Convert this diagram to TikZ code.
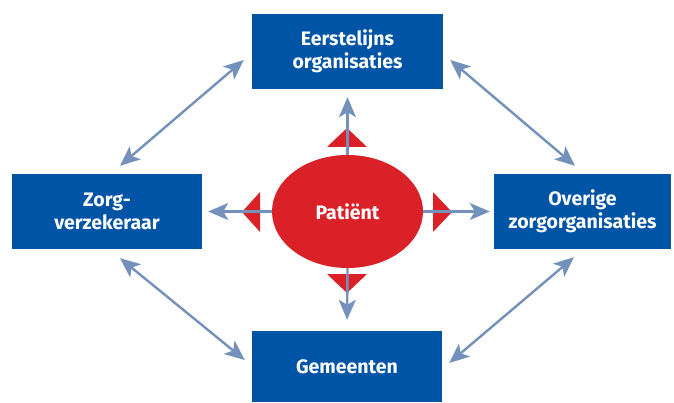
\documentclass[tikz,border=0pt]{standalone}
\usepackage{fontspec}
\setmainfont{Fira Sans}[Ligatures=NoCommon]
\usetikzlibrary{arrows.meta,shapes.geometric}
\definecolor{boxblue}{HTML}{0054A6}
\definecolor{patred}{HTML}{DA2128}
\definecolor{linkblue}{HTML}{7391BB}
\tikzset{
	orgbox/.style={rectangle,fill=boxblue,text=white,align=center,inner sep=0pt,font=\fontsize{19.5}{22.5}\selectfont\bfseries},
	link/.style={draw=linkblue,line width=2.4pt,-{Stealth[length=20pt,width=17pt,inset=5pt]}},
	duallink/.style={link,{Stealth[length=20pt,width=17pt,inset=5pt]}-{Stealth[length=20pt,width=17pt,inset=5pt]}}
}
\begin{document}
\begin{tikzpicture}[x=1pt,y=-1pt]
					\useasboundingbox (0,0) rectangle (674,403);
					\node (eerste)[orgbox,minimum width=191pt,minimum height=75pt] at (347.5,51.5){Eerstelijns\\organisaties};
					\node (verzekeraar)[orgbox,minimum width=190pt,minimum height=75pt] at (107,211.5){Zorg-\\verzekeraar};
					\node (overige)[orgbox,minimum width=177pt,minimum height=75pt] at (582.5,211.5){Overige\\zorgorganisaties};
					\node (gemeenten)[orgbox,minimum width=190pt,minimum height=71pt] at (347,366.5){Gemeenten};
					\node (patient)[ellipse,fill=patred,text=white,minimum width=151pt,minimum height=113pt,inner sep=0pt,font=\fontsize{19.5}{22.5}\selectfont\bfseries] at (347.5,211.5){Patiënt};
					% red triangles
					\fill[patred] (327,147) -- (367,147) -- (347,128) -- cycle;
					\fill[patred] (327,274) -- (367,274) -- (347,293) -- cycle;
					\fill[patred] (260,192) -- (260,232) -- (242,212) -- cycle;
					\fill[patred] (433,192) -- (433,232) -- (452,212) -- cycle;
					\draw[link,shorten >=8pt] (patient.north) -- (eerste.south);
					\draw[link,shorten >=11pt] (patient.south) -- (gemeenten.north);
					\draw[link,shorten >=6pt] (patient.west) -- (verzekeraar.east);
					\draw[link,shorten >=4pt] (patient.east) -- (overige.west);
					\draw[duallink] ([xshift=13pt,yshift=8pt]verzekeraar.north) -- ([xshift=-8pt,yshift=-8.5pt]eerste.west);
					\draw[duallink] ([xshift=7pt,yshift=-8.5pt]eerste.east) -- ([xshift=-7.5pt,yshift=8pt]overige.north);
					\draw[duallink] ([xshift=13pt,yshift=-9pt]verzekeraar.south) -- ([xshift=-7pt,yshift=6.5pt]gemeenten.west);
					\draw[duallink] ([xshift=7pt,yshift=3.5pt]gemeenten.east) -- ([xshift=-8.5pt,yshift=-8pt]overige.south);
				\end{tikzpicture}
\end{document}
